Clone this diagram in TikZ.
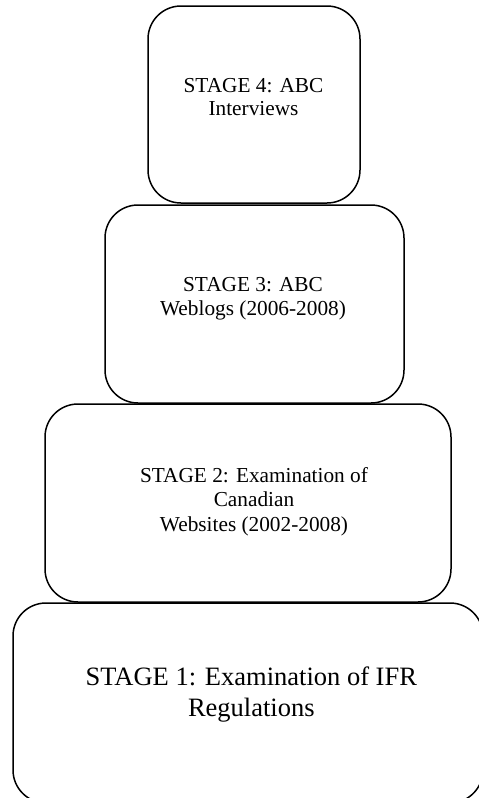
\documentclass[tikz,border=0pt]{standalone}
\usepackage{fontspec}
\setmainfont{Liberation Serif}
\begin{document}
\begin{tikzpicture}[x=1pt,y=-1pt,
  stagebox/.style={draw=black, line width=1.5pt, rounded corners=33pt, inner sep=0pt},
  smalltxt/.style={anchor=base, inner sep=0pt, font=\fontsize{21.3}{24}\selectfont},
  bigtxt/.style={anchor=base, inner sep=0pt, font=\fontsize{26.5}{31}\selectfont}]
  \useasboundingbox (0,0) rectangle (479,798);
  \clip (0,0) rectangle (479,798);

  % stage boxes, stacked bottom-up
  \node[stagebox, minimum width=212pt, minimum height=197pt] (s4) at (254,104.5) {};
  \node[stagebox, minimum width=299pt, minimum height=198pt] (s3) at (254.5,304) {};
  \node[stagebox, minimum width=406pt, minimum height=198pt] (s2) at (248,503) {};
  \node[stagebox, minimum width=470pt, minimum height=200pt] (s1) at (248,703) {};

  % labels
  \node[smalltxt] (s4a) at (253.5,92) {STAGE 4: ABC};
  \node[smalltxt] (s4b) at (253.5,115) {Interviews};

  \node[smalltxt] (s3a) at (253,291) {STAGE 3: ABC};
  \node[smalltxt] (s3b) at (253,315) {Weblogs (2006-2008)};

  \node[smalltxt] (s2a) at (254,482) {STAGE 2: Examination of};
  \node[smalltxt] (s2b) at (254,506.5) {Canadian};
  \node[smalltxt] (s2c) at (254,531) {Websites (2002-2008)};

  \node[bigtxt] (s1a) at (251.3,685) {STAGE 1: Examination of IFR};
  \node[bigtxt] (s1b) at (251.3,716) {Regulations};
\end{tikzpicture}
\end{document}
